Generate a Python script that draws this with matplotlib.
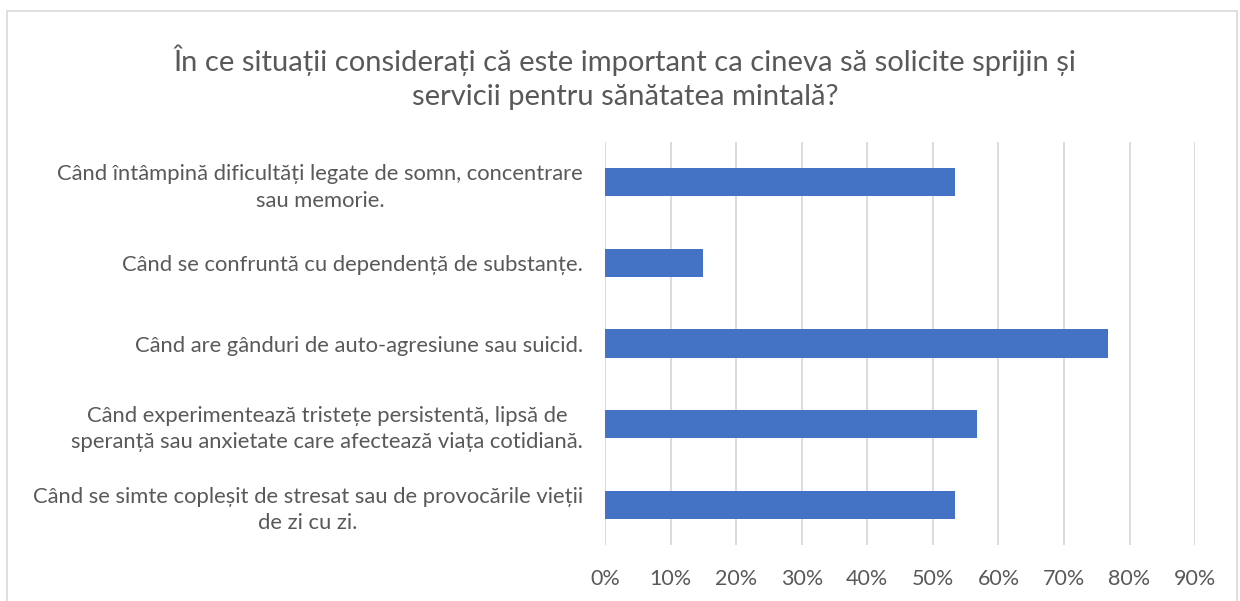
import matplotlib.pyplot as plt
import matplotlib.patches as mpatches
from matplotlib.ticker import FuncFormatter

plt.rcParams['font.family'] = ['Lato', 'DejaVu Sans']

title = ("În ce situații considerați că este important ca cineva să solicite sprijin și\n"
         "servicii pentru sănătatea mintală?")

labels = [
    "Când întâmpină dificultăți legate de somn, concentrare\nsau memorie.",
    "Când se confruntă cu dependență de substanțe.",
    "Când are gânduri de auto-agresiune sau suicid.",
    "Când experimentează tristețe persistentă, lipsă de\nsperanță sau anxietate care afectează viața cotidiană.",
    "Când se simte copleșit de stresat sau de provocările vieții\nde zi cu zi.",
]
values = [0.533, 0.15, 0.767, 0.567, 0.533]
xticks = [0, 0.1, 0.2, 0.3, 0.4, 0.5, 0.6, 0.7, 0.8, 0.9]

gray = '#595959'
blue = '#4472C4'

fig = plt.figure(figsize=(12.4, 6.01), dpi=100)
fig.patches.append(mpatches.Rectangle((7 / 1240, -0.01), 1230 / 1240, 1 - 11 / 601 + 0.01,
                                      transform=fig.transFigure, fill=False,
                                      edgecolor='#D9D9D9', linewidth=1.2))

ax = fig.add_axes([0.488, 0.0932, 0.4758, 0.6705])
pos = range(len(labels))
ax.barh(pos, values, height=0.35, color=blue, zorder=3)
ax.set_xlim(0, 0.9)
ax.set_ylim(len(labels) - 0.5, -0.5)
ax.set_xticks(xticks)
ax.xaxis.set_major_formatter(FuncFormatter(lambda v, p: f"{v * 100:.0f}%"))
ax.set_yticks(list(pos))
ax.set_yticklabels(labels, ma='center', linespacing=1.4)
ax.grid(axis='x', color='#D9D9D9', linewidth=1.3, zorder=0)
for s in ax.spines.values():
    s.set_visible(False)
ax.tick_params(axis='both', length=0, colors=gray)
ax.tick_params(axis='y', pad=16, labelsize=15.8)
ax.tick_params(axis='x', pad=17, labelsize=15.5)

fig.text(0.504, 0.871, title, ha='center', va='center', ma='center',
         fontsize=21, color=gray, linespacing=1.38)

fig.savefig('out.png', dpi=100)
